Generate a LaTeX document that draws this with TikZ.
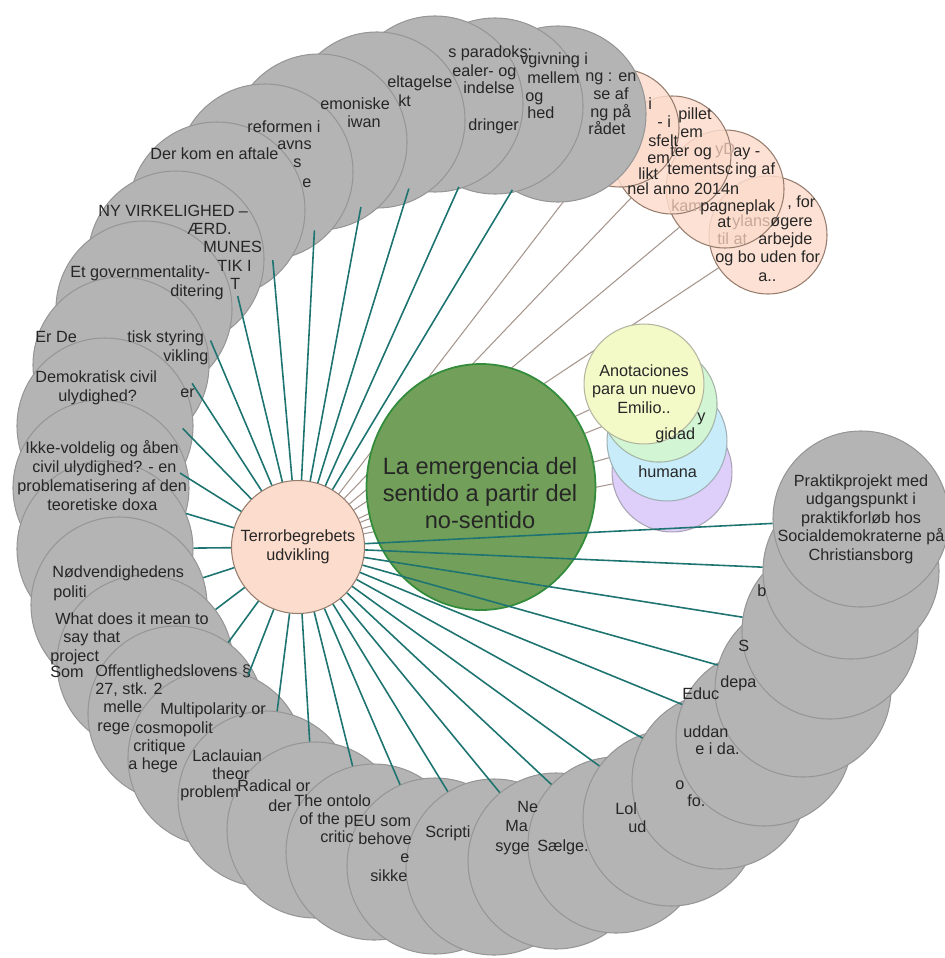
\documentclass[tikz,border=0pt]{standalone}
\usepackage{fontspec}
\setmainfont{Liberation Sans}
\usetikzlibrary{shapes.geometric}
\pgfdeclarelayer{background}
\pgfsetlayers{background,main}

\definecolor{ballgray}{RGB}{180,180,180}
\definecolor{ballline}{RGB}{150,150,150}
\definecolor{spoketeal}{RGB}{30,116,112}
\definecolor{twigbrown}{RGB}{165,150,142}
\definecolor{rootgreen}{RGB}{114,160,90}
\definecolor{rootline}{RGB}{50,140,60}
\definecolor{peach}{RGB}{252,220,204}
\definecolor{peachline}{RGB}{150,125,110}
\definecolor{lemon}{RGB}{243,250,200}
\definecolor{mintfill}{RGB}{210,246,212}
\definecolor{skyfill}{RGB}{200,236,250}
\definecolor{lilac}{RGB}{222,206,250}
\definecolor{faint}{RGB}{198,168,154}

\tikzset{
  gball/.style={circle, draw=ballline, fill=ballgray, line width=0.6pt, minimum size=99.8pt, inner sep=0pt},
  peachball/.style={circle, draw=peachline, fill=peach, fill opacity=0.85, line width=0.6pt, minimum size=66.9pt, inner sep=0pt},
  colball/.style={circle, draw=#1!60!black!70, fill=#1, line width=0.6pt, minimum size=68pt, inner sep=0pt},
  frag/.style={anchor=west, inner sep=0pt, font=\fontsize{9.2}{10.5}\selectfont, text height=6.6pt, text depth=1.9pt, text=black!85},
  label9/.style={align=center, inner sep=0pt, font=\fontsize{9.2}{10.5}\selectfont, text=black!85},
  spoke/.style={draw=spoketeal, line width=0.9pt},
  twig/.style={draw=twigbrown, line width=0.6pt}
}

\begin{document}
\begin{tikzpicture}[x=0.567pt,y=-0.567pt]
\useasboundingbox (0,0) rectangle (945,958);

% peach circles, top right
\node[peachball] (s4) at (768,235) {};
\node[peachball] (s3) at (725,189) {};
\node[peachball] (s2) at (672,155) {};
\node[peachball] (s1) at (620,128) {};
\foreach \fx/\fy/\ft [count=\i] in {
  648/105/i, 657/123/- i, 648/142/sfelt, 647/159/em, 638/175/likt,
  678/115/pillet, 680/133/em, 670/152/ter og, 667/170/tementsc, 627/190/nel anno 2014n,
  733/152/ay -, 735/170/ing af, 700/207/pagneplak, 717/223/at,
  787/203/{, for}, 770/222/øgere, 758/240/arbejde, 715/258/og bo uden for, 758/277/a..}
  \node[frag] (pf\i) at (\fx,\fy) {\ft};
\foreach \fx/\fy/\ft [count=\i] in {715/150/yD, 671/207/kam, 732/222/ylans, 717/240/til at}
  \node[frag, text=faint] (pw\i) at (\fx,\fy) {\ft};

% grey ring
\foreach \x/\y [count=\i] in {
  558/114, 495/106, 435/104, 377/120, 319/142, 265/172, 217/210, 176/259,
  144/309, 121/365, 105/426, 101/488, 105/549, 119/605, 145/663, 176/714,
  216/758, 266/799, 315/830, 374/852, 435/866, 494/867, 556/861, 616/845,
  671/818, 720/781, 764/738, 803/689, 830/631, 851/571, 861/519}
  \node[gball] (g\i) at (\x,\y) {};
\node[label9] (g31txt) at (g31.center)
  {Praktikprojekt med\\udgangspunkt i\\praktikforløb hos\\Socialdemokraterne på\\Christiansborg};

% what is left readable of the grey labels
\foreach \fx/\fy/\ft [count=\i] in {
  585/77/ng : en, 593/95/se af, 590/113/ng på, 588/130/rådet,
  520/60/vgivning i, 527/79/mellem, 525/97/og, 527/114/hed,
  448/53/s paradoks:, 452/72/ealer- og, 463/89/indelse, 468/126/dringer,
  387/83/eltagelse, 398/102/kt,
  320/105/emoniske, 347/123/iwan,
  247/128/reformen i, 277/145/avns, 293/163/s, 302/183/e,
  150/155/Der kom en aftale,
  98/212/NY VIRKELIGHED –, 187/230/ÆRD., 203/248/MUNES, 217/267/TIK I, 230/285/T,
  70/273/Et governmentality-, 170/292/ditering,
  35/338/Er De, 127/338/tisk styring, 163/357/vikling, 180/393/er,
  35/378/Demokratisk civil, 58/397/ulydighed?,
  25/449/Ikke-voldelig og åben, 32/468/civil ulydighed? - en, 17/487/problematisering af den, 47/506/teoretiske doxa,
  52/573/Nødvendighedens, 53/593/politi,
  55/620/What does it mean to, 63/638/say that, 50/657/project, 50/673/Som,
  95/672/Offentlighedslovens §, 95/690/{27, stk. 2}, 103/708/melle, 97/727/rege,
  160/710/Multipolarity or, 135/729/cosmopolit, 133/747/critique, 128/765/a hege,
  192/757/Laclauian, 212/775/theor, 180/793/problem,
  237/787/Radical or, 268/807/der,
  294/802/The ontolo, 299/820/of the p, 320/838/critic,
  353/822/EU som, 358/840/behove, 400/858/e, 370/877/sikke,
  425/833/Scripti,
  517/808/Ne, 505/827/Ma, 495/847/syge,
  537/847/Sælge.,
  615/810/Lol, 628/828/ud,
  675/785/o, 687/802/fo.,
  682/695/Educ, 683/733/uddan, 695/750/e i da.,
  738/647/S, 720/683/depa,
  757/592/b}
  \node[frag] (gf\i) at (\fx,\fy) {\ft};

% centre
\node[ellipse, draw=rootline, fill=rootgreen, line width=1pt, minimum width=129.8pt, minimum height=139.5pt,
  inner sep=0pt] (root) at (481,487) {};
\node[align=center, inner sep=0pt, font=\fontsize{13.4}{15.5}\selectfont, text=black!85] (roottxt) at (480,493)
  {La emergencia del\\sentido a partir del\\no-sentido};

\node[colball=lilac] (an4) at (672,472) {};
\node[colball=skyfill] (an3) at (667,441) {};
\node[colball=mintfill, minimum size=65.8pt] (an2) at (659,404) {};
\node[colball=lemon] (an1) at (644,384) {};
\node[label9] (an1txt) at (644,389) {Anotaciones\\para un nuevo\\Emilio..};
\node[frag] (af1) at (697,417) {y};
\node[frag] (af2) at (655,435) {gidad};
\node[frag] (af3) at (638,473) {humana};

\node[circle, draw=peachline, fill=peach, line width=0.6pt, minimum size=75.4pt, inner sep=0pt] (terror) at (298,547) {};
\node[label9] (terrortxt) at (298,547) {Terrorbegrebets\\udvikling};

\foreach \i in {1,...,31}
  \draw[spoke] (terror) -- (g\i);

\begin{pgfonlayer}{background}
  \foreach \n in {s1,s2,s3,s4,an1,an2,an3,an4}
    \draw[twig] (terror) -- (\n);
\end{pgfonlayer}
\end{tikzpicture}
\end{document}
